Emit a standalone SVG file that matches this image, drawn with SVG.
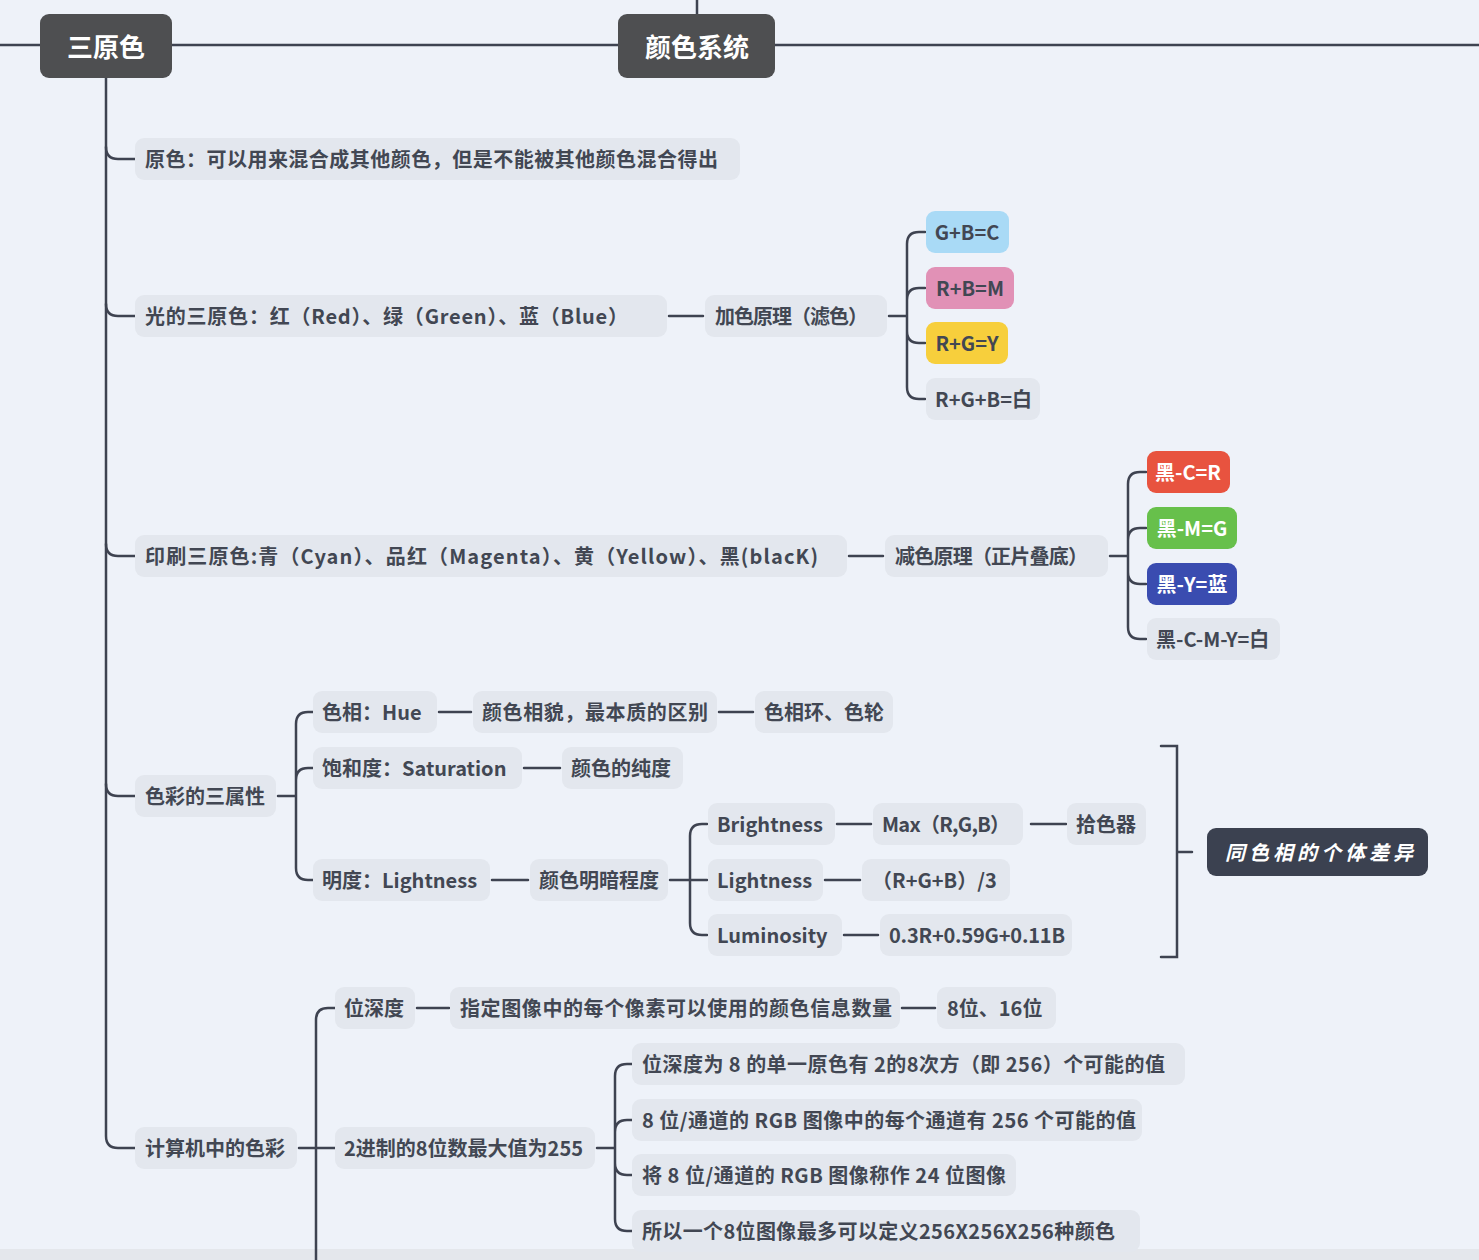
<svg xmlns="http://www.w3.org/2000/svg" width="1479" height="1260" viewBox="0 0 1479 1260">
<style>
.bg{fill:#eef2f9}
.p{fill:#e3e7ee}
.t{font-family:"Noto Sans CJK SC","Noto Sans",sans-serif;font-size:20px;font-weight:bold;fill:#424753;dominant-baseline:central}
.w{fill:#ffffff}
.c{fill:none;stroke:#3e4351;stroke-width:2.5;stroke-linecap:round}
.root{fill:#4e4f51}
.rt{font-family:"Noto Sans CJK SC","Noto Sans",sans-serif;font-size:26px;font-weight:bold;fill:#ffffff;dominant-baseline:central;text-anchor:middle}
.m{text-anchor:middle}
</style>
<rect class="bg" x="0" y="0" width="1479" height="1260"/>
<rect x="0" y="1249" width="1479" height="11" fill="#e4e7ec"/>
<g id="connectors">
<path class="c" d="M0,45 H1479"/>
<path class="c" d="M697,0 V14"/>
<path class="c" d="M106,78 V1136 Q106,1148 118,1148 H135"/>
<path class="c" d="M106,147 Q106,159 118,159 H135"/>
<path class="c" d="M106,304 Q106,316 118,316 H135"/>
<path class="c" d="M106,544 Q106,556 118,556 H135"/>
<path class="c" d="M106,784 Q106,796 118,796 H135"/>
<path class="c" d="M669,316 H703"/>
<path class="c" d="M889,316 H907 M907,316 V244 Q907,232 919,232 H925 M907,316 V300 Q907,288 919,288 H925 M907,316 V331 Q907,343 919,343 H925 M907,316 V387 Q907,399 919,399 H925"/>
<path class="c" d="M849,556 H883"/>
<path class="c" d="M1110,556 H1128 M1128,556 V484 Q1128,472 1140,472 H1146 M1128,556 V540 Q1128,528 1140,528 H1146 M1128,556 V572 Q1128,584 1140,584 H1146 M1128,556 V627 Q1128,639 1140,639 H1146"/>
<path class="c" d="M278,796 H296 M296,796 V724 Q296,712 308,712 H313 M296,796 V780 Q296,768 308,768 H313 M296,796 V868 Q296,880 308,880 H313"/>
<path class="c" d="M439,712 H471 M719,712 H753"/>
<path class="c" d="M524,768 H560"/>
<path class="c" d="M492,880 H528"/>
<path class="c" d="M670,880 H690 M690,880 V836 Q690,824 702,824 H707 M690,880 H707 M690,880 V923 Q690,935 702,935 H707"/>
<path class="c" d="M837,824 H871 M1031,824 H1066"/>
<path class="c" d="M825,880 H860"/>
<path class="c" d="M844,935 H878"/>
<path class="c" d="M1161,746 H1177 V957 H1161 M1177,852 H1192"/>
<path class="c" d="M299,1148 H335 M316,1260 V1020 Q316,1008 328,1008 H335"/>
<path class="c" d="M417,1008 H449 M902,1008 H935"/>
<path class="c" d="M597,1148 H615 M615,1148 V1076 Q615,1064 627,1064 H632 M615,1148 V1132 Q615,1120 627,1120 H632 M615,1148 V1163 Q615,1175 627,1175 H632 M615,1148 V1219 Q615,1231 627,1231 H632"/>
</g>
<g id="n-sanyuanse"><rect class="root" x="40" y="14" width="132" height="64" rx="9"/><text class="rt" x="106" y="45">三原色</text></g>
<g id="n-yansexitong"><rect class="root" x="618" y="14" width="157" height="64" rx="9"/><text class="rt" x="697" y="45">颜色系统</text></g>
<g id="n-yuanse"><rect class="p" x="135" y="138" width="605" height="42" rx="9"/><text class="t" x="145" y="158" textLength="573" lengthAdjust="spacing">原色：可以用来混合成其他颜色，但是不能被其他颜色混合得出</text></g>
<g id="n-guang"><rect class="p" x="135" y="295" width="532" height="42" rx="9"/><text class="t" x="145" y="315" textLength="483" lengthAdjust="spacing">光的三原色：红（Red）、绿（Green）、蓝（Blue）</text></g>
<g id="n-jiase"><rect class="p" x="705" y="295" width="182" height="42" rx="9"/><text class="t" x="715" y="315" textLength="153" lengthAdjust="spacing">加色原理（滤色）</text></g>
<g id="n-gbc"><rect x="926" y="211" width="83" height="42" rx="9" fill="#a9daf6"/><text class="t m" x="967" y="231">G+B=C</text></g>
<g id="n-rbm"><rect x="926" y="267" width="88" height="42" rx="9" fill="#e191b6"/><text class="t m" x="970" y="287">R+B=M</text></g>
<g id="n-rgy"><rect x="926" y="322" width="82" height="42" rx="9" fill="#f7cf3c"/><text class="t m" x="967" y="342">R+G=Y</text></g>
<g id="n-rgbw"><rect class="p" x="926" y="378" width="114" height="42" rx="9"/><text class="t" x="935" y="398">R+G+B=白</text></g>
<g id="n-yinshua"><rect class="p" x="135" y="535" width="712" height="42" rx="9"/><text class="t" x="145" y="555" textLength="673" lengthAdjust="spacing">印刷三原色:青（Cyan）、品红（Magenta）、黄（Yellow）、黑(blacK)</text></g>
<g id="n-jianse"><rect class="p" x="885" y="535" width="223" height="42" rx="9"/><text class="t" x="895" y="555" textLength="193" lengthAdjust="spacing">减色原理（正片叠底）</text></g>
<g id="n-kcr"><rect x="1147" y="451" width="83" height="42" rx="9" fill="#e8533f"/><text class="t w m" x="1188" y="471">黑-C=R</text></g>
<g id="n-kmg"><rect x="1147" y="507" width="90" height="42" rx="9" fill="#67c04b"/><text class="t w m" x="1192" y="527">黑-M=G</text></g>
<g id="n-kyb"><rect x="1147" y="563" width="90" height="42" rx="9" fill="#3a4cb0"/><text class="t w m" x="1192" y="583">黑-Y=蓝</text></g>
<g id="n-kcmyw"><rect class="p" x="1147" y="618" width="133" height="42" rx="9"/><text class="t" x="1156" y="638">黑-C-M-Y=白</text></g>
<g id="n-sancaixing"><rect class="p" x="135" y="775" width="141" height="42" rx="9"/><text class="t" x="145" y="795">色彩的三属性</text></g>
<g id="n-hue"><rect class="p" x="313" y="691" width="124" height="42" rx="9"/><text class="t" x="322" y="711">色相：Hue</text></g>
<g id="n-hue1"><rect class="p" x="473" y="691" width="244" height="42" rx="9"/><text class="t" x="482" y="711" textLength="226" lengthAdjust="spacing">颜色相貌，最本质的区别</text></g>
<g id="n-hue2"><rect class="p" x="755" y="691" width="138" height="42" rx="9"/><text class="t" x="764" y="711">色相环、色轮</text></g>
<g id="n-sat"><rect class="p" x="313" y="747" width="209" height="42" rx="9"/><text class="t" x="322" y="767">饱和度：Saturation</text></g>
<g id="n-sat1"><rect class="p" x="562" y="747" width="121" height="42" rx="9"/><text class="t" x="571" y="767">颜色的纯度</text></g>
<g id="n-light"><rect class="p" x="313" y="859" width="177" height="42" rx="9"/><text class="t" x="322" y="879">明度：Lightness</text></g>
<g id="n-light1"><rect class="p" x="530" y="859" width="138" height="42" rx="9"/><text class="t" x="539" y="879">颜色明暗程度</text></g>
<g id="n-bright"><rect class="p" x="708" y="803" width="127" height="42" rx="9"/><text class="t" x="717" y="823">Brightness</text></g>
<g id="n-max"><rect class="p" x="873" y="803" width="150" height="42" rx="9"/><text class="t" x="882" y="823" textLength="128" lengthAdjust="spacing">Max（R,G,B）</text></g>
<g id="n-picker"><rect class="p" x="1067" y="803" width="79" height="42" rx="9"/><text class="t" x="1076" y="823">拾色器</text></g>
<g id="n-lightness"><rect class="p" x="708" y="859" width="115" height="42" rx="9"/><text class="t" x="717" y="879">Lightness</text></g>
<g id="n-avg"><rect class="p" x="862" y="859" width="148" height="42" rx="9"/><text class="t" x="872" y="879">（R+G+B）/3</text></g>
<g id="n-lum"><rect class="p" x="708" y="914" width="134" height="42" rx="9"/><text class="t" x="717" y="934">Luminosity</text></g>
<g id="n-lumf"><rect class="p" x="880" y="914" width="192" height="42" rx="9"/><text class="t" x="889" y="934" textLength="176" lengthAdjust="spacing">0.3R+0.59G+0.11B</text></g>
<g id="n-summary"><rect x="1207" y="828" width="221" height="48" rx="9" fill="#3b4150"/><text class="t w" x="1225" y="851" font-style="italic" font-weight="normal" font-size="23" textLength="188" lengthAdjust="spacing">同色相的个体差异</text></g>
<g id="n-computer"><rect class="p" x="135" y="1127" width="162" height="42" rx="9"/><text class="t" x="145" y="1147">计算机中的色彩</text></g>
<g id="n-depth"><rect class="p" x="335" y="987" width="80" height="42" rx="9"/><text class="t" x="344" y="1007">位深度</text></g>
<g id="n-depth1"><rect class="p" x="450" y="987" width="450" height="42" rx="9"/><text class="t" x="460" y="1007" textLength="432" lengthAdjust="spacing">指定图像中的每个像素可以使用的颜色信息数量</text></g>
<g id="n-depth2"><rect class="p" x="937" y="987" width="119" height="42" rx="9"/><text class="t" x="947" y="1007">8位、16位</text></g>
<g id="n-bin"><rect class="p" x="335" y="1127" width="260" height="42" rx="9"/><text class="t" x="344" y="1147">2进制的8位数最大值为255</text></g>
<g id="n-b1"><rect class="p" x="632" y="1043" width="553" height="42" rx="9"/><text class="t" x="642" y="1063" textLength="523" lengthAdjust="spacing">位深度为 8 的单一原色有 2的8次方（即 256）个可能的值</text></g>
<g id="n-b2"><rect class="p" x="632" y="1099" width="510" height="42" rx="9"/><text class="t" x="642" y="1119" textLength="494" lengthAdjust="spacing">8 位/通道的 RGB 图像中的每个通道有 256 个可能的值</text></g>
<g id="n-b3"><rect class="p" x="632" y="1154" width="384" height="42" rx="9"/><text class="t" x="642" y="1174" textLength="364" lengthAdjust="spacing">将 8 位/通道的 RGB 图像称作 24 位图像</text></g>
<g id="n-b4"><rect class="p" x="632" y="1210" width="508" height="42" rx="9"/><text class="t" x="642" y="1230" textLength="473" lengthAdjust="spacing">所以一个8位图像最多可以定义256X256X256种颜色</text></g>
</svg>
